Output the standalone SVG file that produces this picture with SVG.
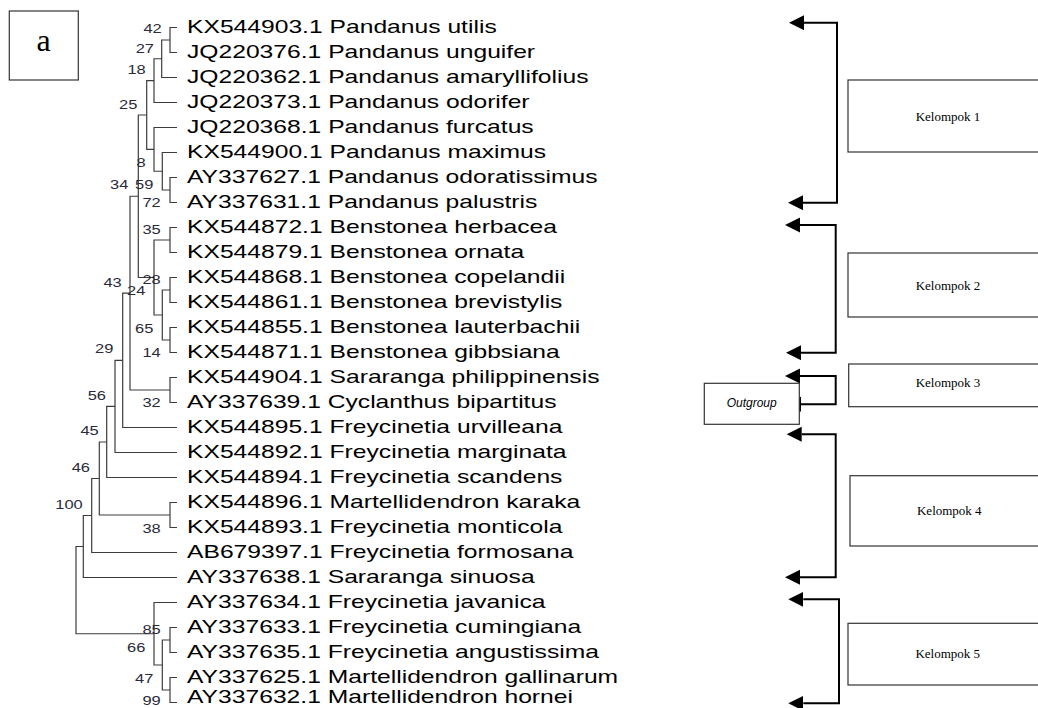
<svg xmlns="http://www.w3.org/2000/svg" width="1038" height="708" viewBox="0 0 1038 708">
<style>
.br{fill:none;stroke:#3c3c3c;stroke-width:1.2}
.leaf{font-family:"Liberation Sans",Arial,sans-serif;font-size:18px;fill:#000}
.bs{font-family:"Liberation Sans",Arial,sans-serif;font-size:12px;fill:#2a2a3a;text-anchor:end}
.box{fill:#fff;stroke:#333;stroke-width:1.2}
.kl{font-family:"Liberation Serif","Times New Roman",serif;font-size:13px;fill:#000;text-anchor:middle}
.og{font-family:"Liberation Sans",Arial,sans-serif;font-size:12px;font-style:italic;fill:#000;text-anchor:middle}
.con{fill:none;stroke:#000;stroke-width:2;marker-start:url(#ah);marker-end:url(#ah)}
</style>
<defs>
<marker id="ah" markerUnits="userSpaceOnUse" markerWidth="16" markerHeight="16" refX="0" refY="7.5" orient="auto-start-reverse" viewBox="0 0 16 16">
<path d="M15,0 L0,7.5 L15,15 z" fill="#000" transform="translate(15,15) rotate(180)"/>
</marker>
</defs>
<rect width="1038" height="708" fill="#fff"/>
<g id="label-a">
<rect x="9.3" y="11" width="69" height="69" class="box"/>
<text x="43.5" y="51" font-family="Liberation Serif,'Times New Roman',serif" font-size="32" text-anchor="middle">a</text>
</g>
<g id="tree">
<path class="br" d="M177 27.5H170V52.5H177
M170 40H161.7V77.5H177
M161.7 58.75H154V102.5H177
M177 177.5H170V202.5H177
M177 152.5H162.3V190H170
M177 127.5H154V171.25H162.3
M154 80.6H146.7V149.4H154
M177 227.5H170V252.5H177
M177 277.5H170V302.5H177
M177 327.5H170V352.5H177
M170 290H162.3V340H170
M170 240H154V315H162.3
M146.7 115H138.3V277.5H154
M177 377.5H170V402.5H177
M138.3 196.25H130V390H170
M130 293.1H122.7V427.5H177
M122.7 360.3H115V452.5H177
M115 406.4H106.7V477.5H177
M177 502.5H170V527.5H177
M106.7 442H99.3V515H170
M99.3 478.5H91.7V552.5H177
M91.7 515.5H83.3V577.5H177
M177 627.5H170V652.5H177
M177 677.5H170V702.5H177
M170 640H162.3V690H170
M177 602.5H154V665H162.3
M83.3 546.5H76V633.75H154"/>
</g>
<g id="leaves" transform="scale(1.37,1)">
<text class="leaf" x="136.5" y="33.5">KX544903.1 Pandanus utilis</text>
<text class="leaf" x="136.5" y="58.5">JQ220376.1 Pandanus unguifer</text>
<text class="leaf" x="136.5" y="83.5">JQ220362.1 Pandanus amaryllifolius</text>
<text class="leaf" x="136.5" y="108.5">JQ220373.1 Pandanus odorifer</text>
<text class="leaf" x="136.5" y="133.5">JQ220368.1 Pandanus furcatus</text>
<text class="leaf" x="136.5" y="158.5">KX544900.1 Pandanus maximus</text>
<text class="leaf" x="136.5" y="183.5">AY337627.1 Pandanus odoratissimus</text>
<text class="leaf" x="136.5" y="208.5">AY337631.1 Pandanus palustris</text>
<text class="leaf" x="136.5" y="233.5">KX544872.1 Benstonea herbacea</text>
<text class="leaf" x="136.5" y="258.5">KX544879.1 Benstonea ornata</text>
<text class="leaf" x="136.5" y="283.5">KX544868.1 Benstonea copelandii</text>
<text class="leaf" x="136.5" y="308.5">KX544861.1 Benstonea brevistylis</text>
<text class="leaf" x="136.5" y="333.5">KX544855.1 Benstonea lauterbachii</text>
<text class="leaf" x="136.5" y="358.5">KX544871.1 Benstonea gibbsiana</text>
<text class="leaf" x="136.5" y="383.5">KX544904.1 Sararanga philippinensis</text>
<text class="leaf" x="136.5" y="408.5">AY337639.1 Cyclanthus bipartitus</text>
<text class="leaf" x="136.5" y="433.5">KX544895.1 Freycinetia urvilleana</text>
<text class="leaf" x="136.5" y="458.5">KX544892.1 Freycinetia marginata</text>
<text class="leaf" x="136.5" y="483.5">KX544894.1 Freycinetia scandens</text>
<text class="leaf" x="136.5" y="508.5">KX544896.1 Martellidendron karaka</text>
<text class="leaf" x="136.5" y="533.5">KX544893.1 Freycinetia monticola</text>
<text class="leaf" x="136.5" y="558.5">AB679397.1 Freycinetia formosana</text>
<text class="leaf" x="136.5" y="583.5">AY337638.1 Sararanga sinuosa</text>
<text class="leaf" x="136.5" y="608.5">AY337634.1 Freycinetia javanica</text>
<text class="leaf" x="136.5" y="633.5">AY337633.1 Freycinetia cumingiana</text>
<text class="leaf" x="136.5" y="658.5">AY337635.1 Freycinetia angustissima</text>
<text class="leaf" x="136.5" y="683.5">AY337625.1 Martellidendron gallinarum</text>
<text class="leaf" x="136.5" y="703.5">AY337632.1 Martellidendron hornei</text>
</g>
<g id="bootstrap" transform="scale(1.37,1)">
<text class="bs" x="118.03" y="33.3">42</text>
<text class="bs" x="112.41" y="53">27</text>
<text class="bs" x="106.35" y="74">18</text>
<text class="bs" x="100.22" y="109">25</text>
<text class="bs" x="106.35" y="166.7">8</text>
<text class="bs" x="93.65" y="189.3">34</text>
<text class="bs" x="111.9" y="189.3">59</text>
<text class="bs" x="117.3" y="206.7">72</text>
<text class="bs" x="117.3" y="234">35</text>
<text class="bs" x="117.3" y="284">28</text>
<text class="bs" x="88.83" y="286.7">43</text>
<text class="bs" x="106.06" y="295">24</text>
<text class="bs" x="111.9" y="333.3">65</text>
<text class="bs" x="117.3" y="357.3">14</text>
<text class="bs" x="82.7" y="353.3">29</text>
<text class="bs" x="117.3" y="407.3">32</text>
<text class="bs" x="77.37" y="400">56</text>
<text class="bs" x="72.04" y="435">45</text>
<text class="bs" x="65.69" y="471.7">46</text>
<text class="bs" x="60.36" y="509">100</text>
<text class="bs" x="117.3" y="532.7">38</text>
<text class="bs" x="117.3" y="634">85</text>
<text class="bs" x="106.06" y="651.7">66</text>
<text class="bs" x="111.9" y="682.7">47</text>
<text class="bs" x="117.3" y="705">99</text>
</g>
<g id="connectors">
<path class="con" d="M804 22.7H837V202.7H803"/>
<path class="con" d="M800 225H835.7V352.7H801"/>
<path class="con" d="M800 376H835.7V404.3H801"/>
<path class="con" d="M801.7 434.3H835.7V577.3H800"/>
<path class="con" d="M803.3 599.3H839V703.3H803.3"/>
</g>
<g id="kelompok1"><rect class="box" x="848" y="80" width="200" height="72"/><text class="kl" x="948" y="121">Kelompok 1</text></g>
<g id="kelompok2"><rect class="box" x="848" y="253" width="200" height="64"/><text class="kl" x="948" y="290">Kelompok 2</text></g>
<g id="kelompok3"><rect class="box" x="848.7" y="364" width="200" height="42.7"/><text class="kl" x="948" y="386.5">Kelompok 3</text></g>
<g id="kelompok4"><rect class="box" x="850" y="475.7" width="200" height="70.3"/><text class="kl" x="949.3" y="515">Kelompok 4</text></g>
<g id="kelompok5"><rect class="box" x="848" y="623.3" width="200" height="61.7"/><text class="kl" x="947.7" y="658.3">Kelompok 5</text></g>
<g id="outgroup"><rect class="box" x="704.3" y="383.3" width="95" height="41"/><text class="og" x="751.7" y="406.7">Outgroup</text></g>
</svg>
